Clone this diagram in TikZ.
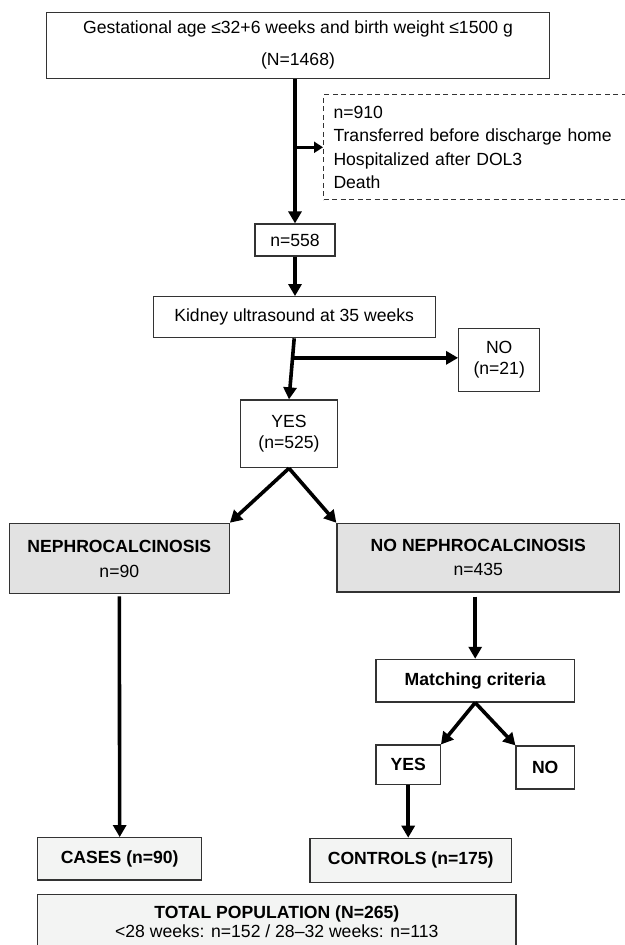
\documentclass[tikz,border=0pt]{standalone}
\usepackage{fontspec}
\setmainfont{Liberation Sans}
\usetikzlibrary{arrows.meta,calc}

\begin{document}
\begin{tikzpicture}[x=1pt,y=-1pt,
  box/.style={draw=col_line,line width=1.2pt,inner sep=0pt,align=center,
    font=\fontsize{17.6}{21}\selectfont},
  flow/.style={line width=3.6pt,-{Triangle[width=13pt,length=12pt]}}]
%
\definecolor{col_line}{rgb}{0.2,0.2,0.2}
\definecolor{col_grp}{rgb}{0.886,0.886,0.886}
\definecolor{col_fin}{rgb}{0.953,0.957,0.953}
%
\useasboundingbox (0,0) rectangle (624,945);
%
\node[box,minimum width=502.6pt,minimum height=66pt] (top) at (298,45.3)
  {Gestational age ≤32+6 weeks and birth weight ≤1500 g\\[11pt](N=1468)};
\node[box,dashed,dash pattern=on 5pt off 3.5pt,line width=1pt,anchor=north west,
  text width=300pt,align=left,inner xsep=10pt,minimum height=105pt,
  font=\fontsize{17.6}{23.3}\selectfont] (excl) at (323,94.3)
  {n=910\\Transferred before discharge home\\Hospitalized after DOL3\\Death};
\node[box,minimum width=80pt,minimum height=32pt] (n558) at (295,240) {n=558};
\node[box,minimum width=282pt,minimum height=41pt] (kidney) at (294.2,317.2)
  {Kidney ultrasound at 35 weeks};
\node[box,minimum width=81pt,minimum height=63.4pt] (no21) at (499.2,360) {NO\\(n=21)};
\node[box,minimum width=97.4pt,minimum height=67.7pt] (yes) at (289,433.8) {YES\\(n=525)};
%
\node[box,fill=col_grp,minimum width=220pt,minimum height=70.4pt,
  font=\fontsize{17.6}{25}\selectfont] (neph) at (119.3,558.5)
  {\textbf{NEPHROCALCINOSIS}\\n=90};
\node[box,fill=col_grp,minimum width=282.7pt,minimum height=68.7pt,
  font=\fontsize{17.6}{24}\selectfont] (noneph) at (478.3,557.7)
  {\textbf{NO NEPHROCALCINOSIS}\\n=435};
%
\node[box,minimum width=198.3pt,minimum height=42.7pt] (match) at (475.2,680.7)
  {\textbf{Matching criteria}};
\node[box,minimum width=64.3pt,minimum height=39.3pt] (yes2) at (408.2,764.7) {\textbf{YES}};
\node[box,minimum width=58.3pt,minimum height=43pt] (no2) at (545.2,767.5) {\textbf{NO}};
%
\node[box,fill=col_fin,minimum width=164pt,minimum height=42.3pt] (cases) at (119.7,858.8)
  {\textbf{CASES (n=90)}};
\node[box,fill=col_fin,minimum width=201.3pt,minimum height=44pt] (controls) at (410.7,860.3)
  {\textbf{CONTROLS (n=175)}};
\node[box,fill=col_fin,anchor=north,minimum width=478.3pt,minimum height=54pt,
  font=\fontsize{17.6}{19.7}\selectfont] (total) at (276.8,894)
  {\textbf{TOTAL POPULATION (N=265)}\\<28 weeks: n=152 / 28–32 weeks: n=113};
%
%
\draw[flow] (n558.north |- top.south) -- (n558.north);
\draw[flow,-{Triangle[width=11pt,length=9pt]}] (n558.north |- excl.west) -- (excl.west);
\draw[flow] (n558.south) -- (n558.south |- kidney.north);
\draw[flow] (kidney.south) -- (yes.north);
\coordinate (kb) at ($(kidney.south)!0.32!(yes.north)$);
\draw[flow] (kb) -- (kb -| no21.west);
\draw[flow] (yes.south) -- (neph.north east);
\draw[flow] (yes.south) -- (noneph.north west);
\draw[flow,shorten <=2pt] (neph.south) -- (cases.north);
\draw[flow,shorten <=4pt] (match.north |- noneph.south) -- (match.north);
\draw[flow] (match.south) -- (yes2.north east);
\draw[flow] (match.south) -- (no2.north west);
\draw[flow] (yes2.south) -- (yes2.south |- controls.north);
%
\end{tikzpicture}
\end{document}
